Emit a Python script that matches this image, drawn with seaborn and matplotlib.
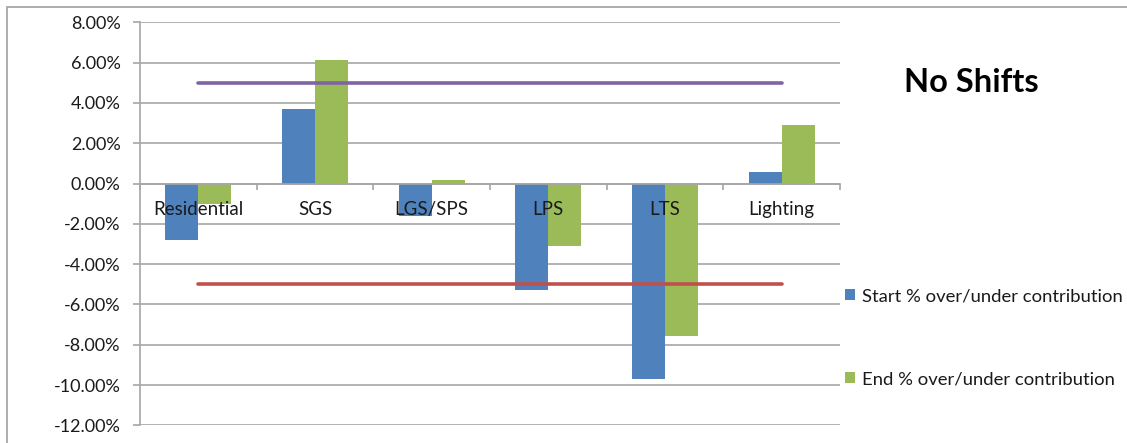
import numpy as np
import pandas as pd
import matplotlib
matplotlib.use("Agg")
import matplotlib.pyplot as plt
from matplotlib.patches import Rectangle
from matplotlib.ticker import FuncFormatter, FixedLocator
import seaborn as sns

# Rate classes and their over/under contribution (percent)
categories = ["Residential", "SGS", "LGS/SPS", "LPS", "LTS", "Lighting"]
start_pct = [-2.80, 3.71, -1.60, -5.31, -9.71, 0.55]
end_pct = [-1.02, 6.12, 0.18, -3.08, -7.59, 2.88]
upper_band = [5.0, 5.0, 5.0, 5.0, 5.0, 5.0]
lower_band = [-5.0, -5.0, -5.0, -5.0, -5.0, -5.0]
series_names = ["Start % over/under contribution", "End % over/under contribution"]
y_ticks = [8, 6, 4, 2, 0, -2, -4, -6, -8, -10, -12]
title = "No Shifts"

BLUE = "#4F81BD"
GREEN = "#9BBB59"
PURPLE = "#8064A2"
RED = "#C0504D"
GRID = "#A6A6A6"
TEXT = "#1a1a1a"

sns.set_theme(style="white")
plt.rcParams["font.family"] = ["Lato", "DejaVu Sans"]

df = pd.DataFrame({
    "category": categories * 2,
    "value": start_pct + end_pct,
    "series": [series_names[0]] * len(categories) + [series_names[1]] * len(categories),
})

fig = plt.figure(figsize=(11.27, 4.43), dpi=100)
ax = fig.add_axes([140 / 1127, 1 - 425.3 / 443, 700 / 1127, 403 / 443])

sns.barplot(data=df, x="category", y="value", hue="series",
            palette=[BLUE, GREEN], width=0.566, gap=0, saturation=1,
            errorbar=None, ax=ax, legend=True)
for p in ax.patches:
    p.set_edgecolor("none")

xpos = np.arange(len(categories))
sns.lineplot(x=xpos, y=upper_band, color=PURPLE, lw=2.6, ax=ax, legend=False)
sns.lineplot(x=xpos, y=lower_band, color=RED, lw=2.6, ax=ax, legend=False)

ax.set_xlim(-0.5, len(categories) - 0.5)
ax.set_ylim(-12, 8)
ax.set_xlabel("")
ax.set_ylabel("")

# y axis: percent ticks with horizontal gridlines
ax.yaxis.set_major_locator(FixedLocator(y_ticks))
ax.yaxis.set_major_formatter(FuncFormatter(lambda v, _: f"{v:.2f}%"))
ax.grid(axis="y", color=GRID, lw=1.2)
ax.tick_params(axis="y", length=5, width=1.2, color=GRID, pad=9,
               labelsize=13, labelcolor=TEXT, left=True)

# category axis crosses at zero; ticks between categories, labels at centres
ax.spines["bottom"].set_position(("data", 0))
ax.xaxis.set_major_locator(FixedLocator(np.arange(-0.5, len(categories), 1.0)))
ax.xaxis.set_minor_locator(FixedLocator(xpos))
ax.xaxis.set_major_formatter(FuncFormatter(lambda v, _: ""))
ax.set_xticks(xpos, categories, minor=True)
ax.tick_params(axis="x", which="major", direction="out", length=4, width=1.2,
               color=GRID, bottom=True)
ax.tick_params(axis="x", which="minor", length=0, pad=12.5, labelsize=13.5,
               labelcolor=TEXT)
ax.yaxis.set_zorder(0.5)
ax.xaxis.set_zorder(5)

for side in ["top", "right"]:
    ax.spines[side].set_visible(False)
for side in ["left", "bottom"]:
    ax.spines[side].set_color(GRID)
    ax.spines[side].set_linewidth(1.2)

handles, labels = ax.get_legend_handles_labels()
ax.get_legend().remove()
fig.legend(handles[:2], labels[:2], loc="upper left",
           bbox_to_anchor=(845 / 1127, 1 - 288 / 443), frameon=False,
           fontsize=13.3, labelcolor=TEXT, borderpad=0, borderaxespad=0,
           handlelength=0.55, handleheight=0.55, handletextpad=0.35,
           labelspacing=3.65)

fig.text(971 / 1127, 1 - 83 / 443, title, ha="center", va="center",
         fontsize=23.5, fontweight="bold", color="#000000")

# chart-area frame
fig.add_artist(Rectangle((7 / 1127, -0.1), 1.2, 1 - 6.7 / 443 + 0.1,
                         transform=fig.transFigure, fill=False,
                         edgecolor="#A0A0A0", lw=1.2))

fig.savefig("out.png", dpi=100)
